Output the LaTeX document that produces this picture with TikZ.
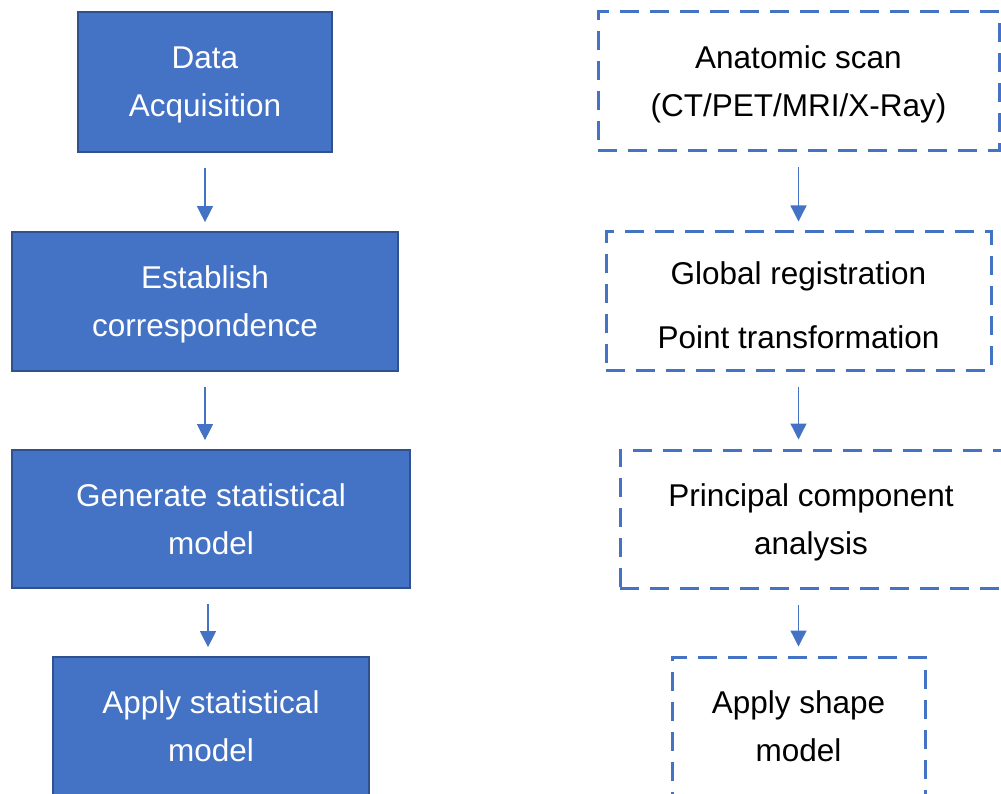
\documentclass[tikz,border=0pt]{standalone}
\usepackage{fontspec}
\setmainfont{Liberation Sans}
\usepackage{tikz}
\usetikzlibrary{arrows.meta, positioning, calc}
\definecolor{stepblue}{HTML}{4472C4}
\definecolor{stepedge}{HTML}{2F528F}

\begin{document}
\begin{tikzpicture}[x=1pt, y=-1pt, boxtext/.style={align=center, font=\fontsize{31.5}{48}\selectfont, inner sep=0pt, text height=70pt, text depth=0pt}, stage/.style={boxtext, rectangle, fill=stepblue, draw=stepedge, line width=1.7pt, text=white}, tool/.style={boxtext, rectangle, draw=stepblue, line width=3pt, dash pattern=on 19pt off 11pt, text=black}, flow/.style={draw=stepblue, line width=1.3pt, -{Triangle[width=16pt,length=16pt]}, shorten <=15pt, shorten >=9pt}]

\useasboundingbox (0,0) rectangle (1001,794);

% Pipeline

\node [stage, minimum width=254pt, minimum height=140pt] (acquisition) at (205,82) {Data\\Acquisition};
\node [stage, minimum width=386pt, minimum height=139pt] (correspondence) at (205,301.5) {Establish\\correspondence};
\node [stage, minimum width=398pt, minimum height=138pt] (generate) at (211,519) {Generate statistical\\model};
\node [stage, minimum width=316pt, minimum height=139pt] (applystat) at (211,726.5) {Apply statistical\\model};

% Methods

\node [tool, minimum width=401pt, minimum height=139pt] (scan) at (798.5,81.5) {Anatomic scan\\(CT/PET/MRI/X-Ray)};
\node [tool, minimum width=385pt, minimum height=138pt, text height=95.4pt] (registration) at (798.5,301) {Global registration\\[16.5pt]Point transformation};
\node [tool, minimum width=382pt, minimum height=138pt] (pca) at (811,519) {Principal component\\analysis};
\node [tool, minimum width=253pt, minimum height=139pt] (applyshape) at (798.5,726.5) {Apply shape\\model};

% Arrows

\draw[flow] (acquisition.south) -- (acquisition.south |- correspondence.north);
\draw[flow] (correspondence.south) -- (correspondence.south |- generate.north);
\draw[flow] ($(generate.south)+(-3,0)$) -- ($(generate.south |- applystat.north)+(-3,0)$);

\draw[flow] (scan.south) -- (scan.south |- registration.north);
\draw[flow] (registration.south) -- (registration.south |- pca.north);
\draw[flow] (applyshape.north |- pca.south) -- (applyshape.north);

\end{tikzpicture}
\end{document}
